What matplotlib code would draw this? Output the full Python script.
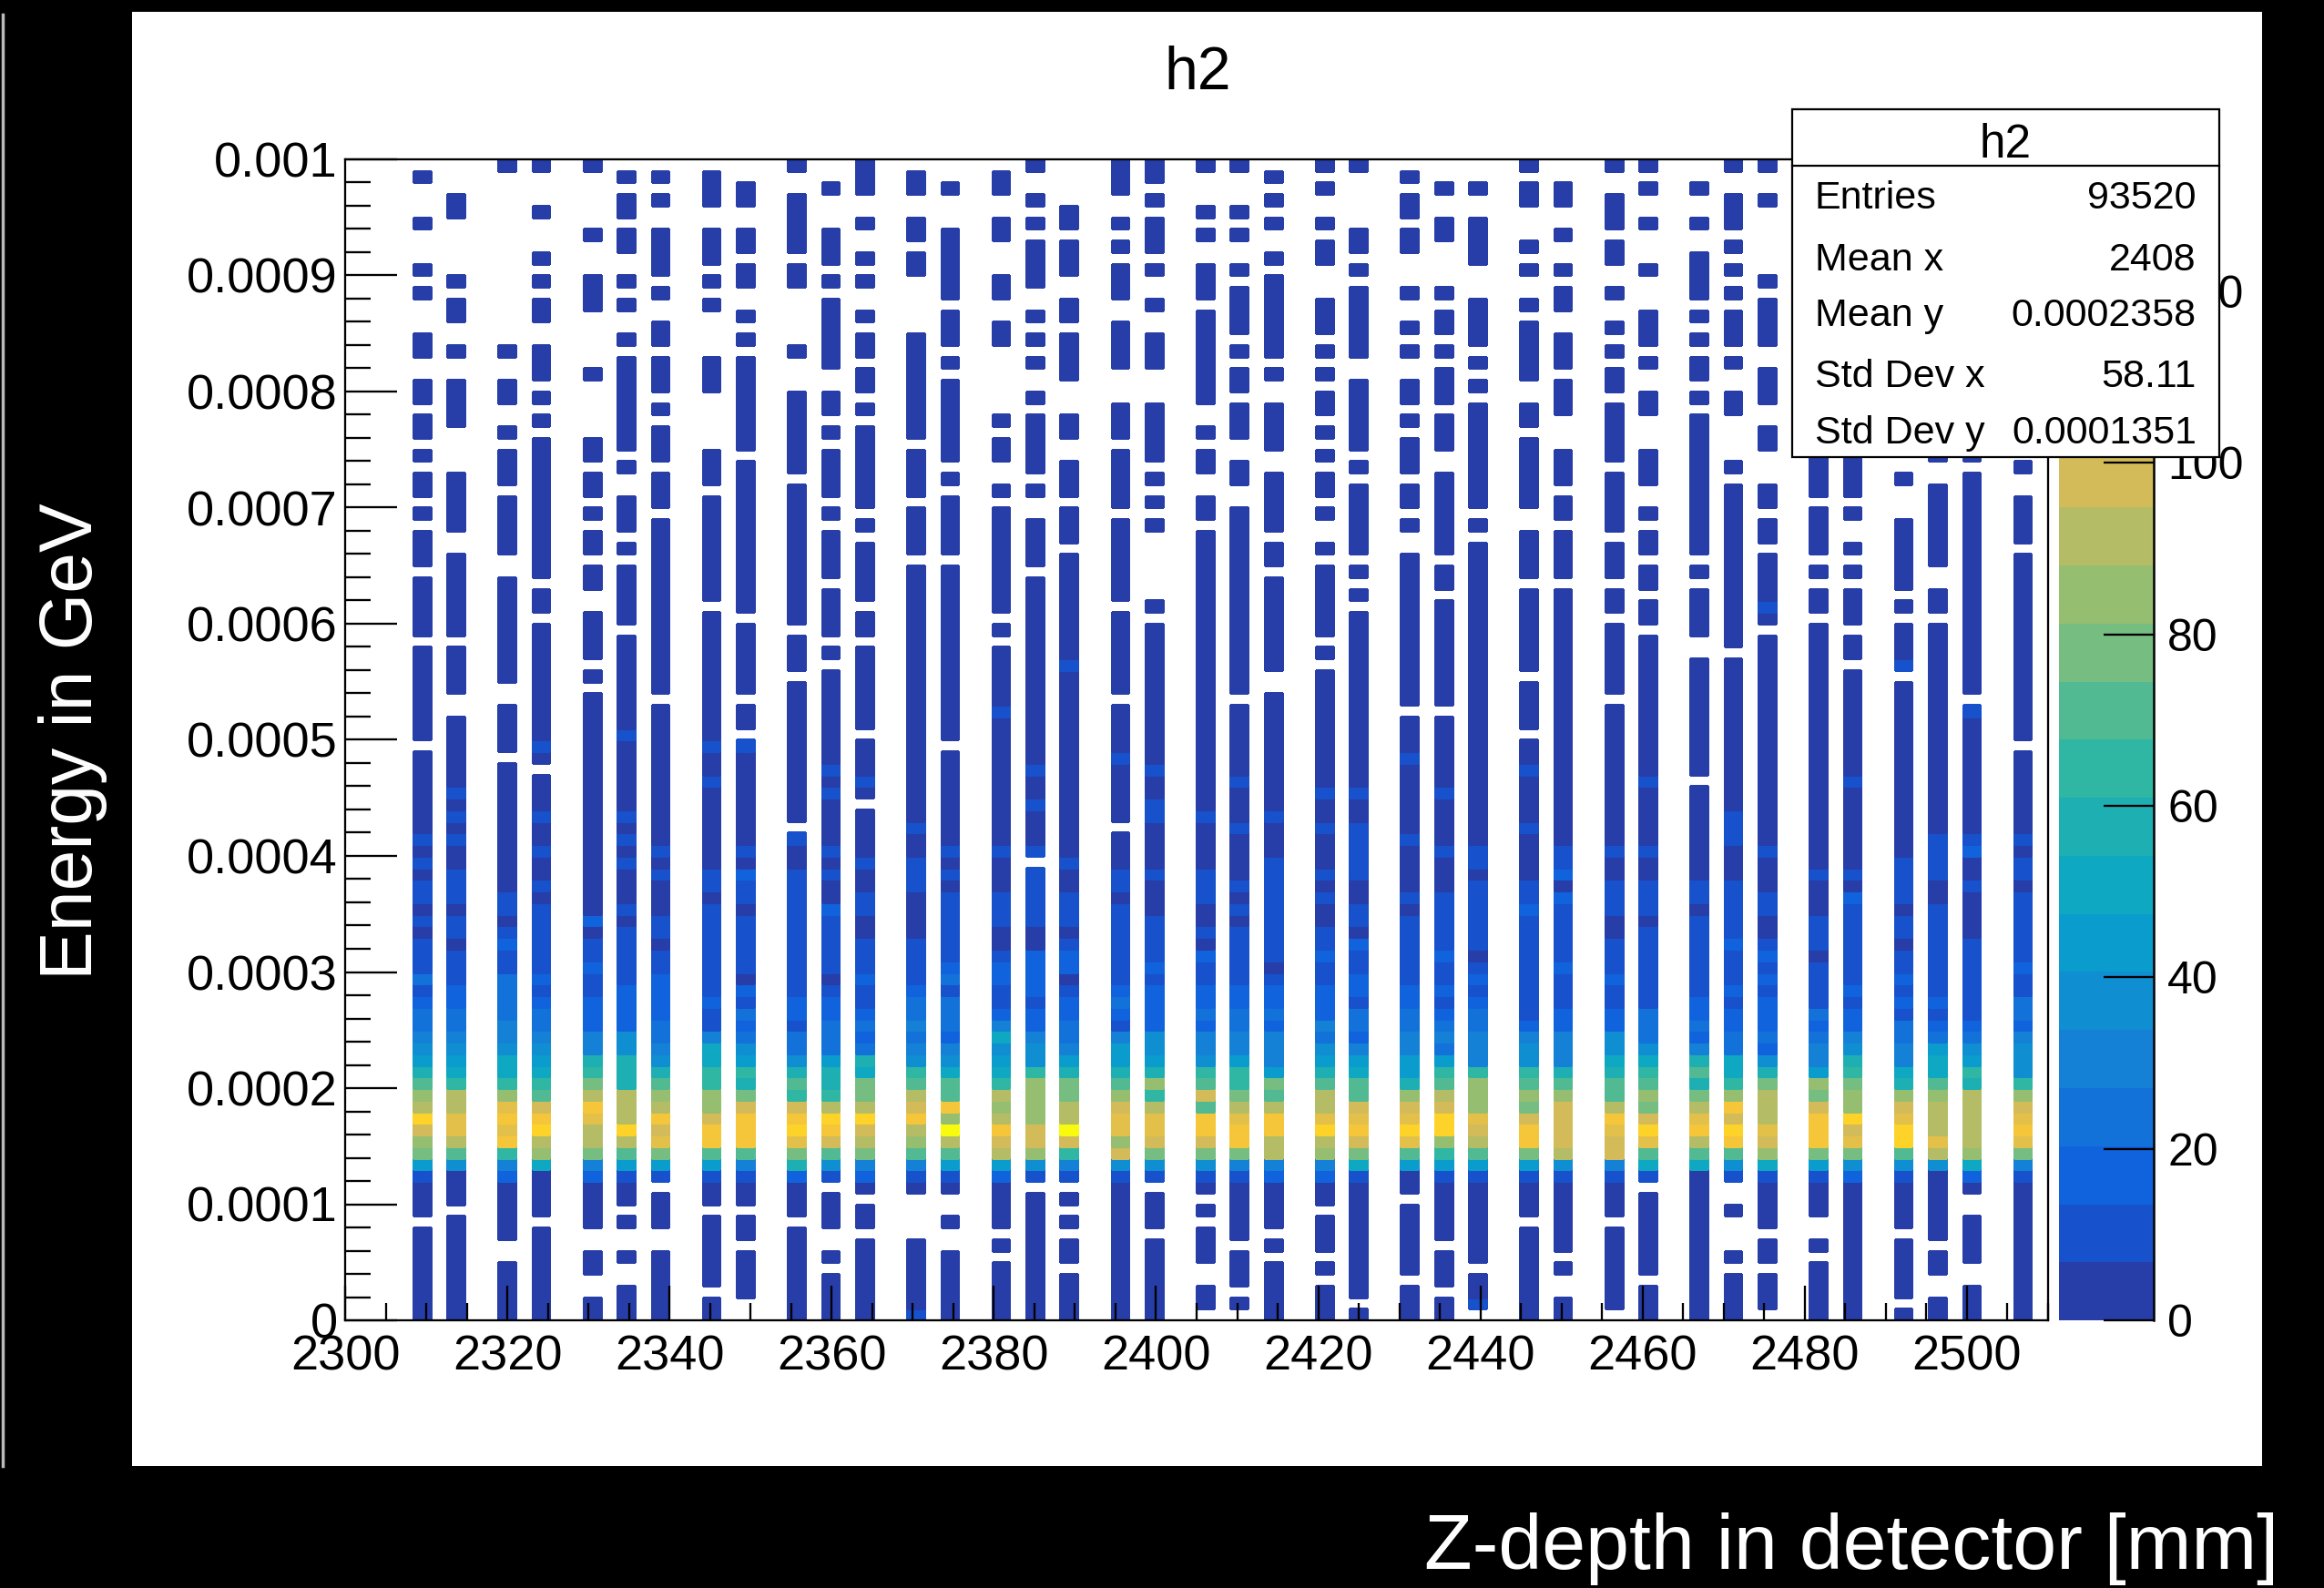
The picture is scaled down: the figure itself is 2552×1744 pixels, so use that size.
import numpy as np
import matplotlib
matplotlib.use("Agg")
import matplotlib.pyplot as plt
from matplotlib.colors import LinearSegmentedColormap, ListedColormap, BoundaryNorm
from matplotlib.patches import Rectangle
from matplotlib.lines import Line2D

# ------------------------------------------------------------------ data
title = "h2"
x_label = "Z-depth in detector [mm]"
y_label = "Energy in GeV"

x_min, x_max, n_xbins = 2300.0, 2510.0, 100
y_min, y_max, n_ybins = 0.0, 0.001, 100
z_max = 135.4          # top of the colour scale
n_levels = 20          # number of colour contours

x_tick_values = [2300, 2320, 2340, 2360, 2380, 2400, 2420, 2440, 2460, 2480, 2500]
x_tick_labels = ["2300", "2320", "2340", "2360", "2380", "2400", "2420", "2440", "2460", "2480", "2500"]
y_tick_values = [0, 0.0001, 0.0002, 0.0003, 0.0004, 0.0005, 0.0006, 0.0007, 0.0008, 0.0009, 0.001]
y_tick_labels = ["0", "0.0001", "0.0002", "0.0003", "0.0004", "0.0005", "0.0006", "0.0007", "0.0008", "0.0009", "0.001"]
z_tick_values = [0, 20, 40, 60, 80, 100, 120]
z_tick_labels = ["0", "20", "40", "60", "80", "100", "120"]

stat_names = ["Entries", "Mean x", "Mean y", "Std Dev x", "Std Dev y"]
stat_values = ["93520", "2408", "0.0002358", "58.11", "0.0001351"]

# filled x bins (detector layers)
layer_bins = [4, 6, 9, 11, 14, 16, 18, 21, 23, 26, 28, 30, 33, 35, 38, 40, 42, 45, 47, 50,
              52, 54, 57, 59, 62, 64, 66, 69, 71, 74, 76, 79, 81, 83, 86, 88, 91, 93, 95, 98]

# colour level of every energy bin; rows 99 (top) ... 50;  '.' = empty, 0-9 a-j = level 0..19
upper_cells = [
    ".0...0...0 .0...00..0 0.00.0.00. 0.000.0000 0.00000000",
    "...00..... 0.00..0..0 000....000 00..000000 0.0000..00",
    "0......... ......0..0 0..0.000.0 0000..0000 00000..000",
    "0...0...0. 0.00..000. 0.0.000000 000000.00. 0000000000",
    "0.....0... 000.....0. ....00.00. 0.00.00..0 000.0.0000",
    ".0.00.00.. 0.0..0.000 00000.0..0 00.0.00000 .000000001",
    ".0.0..0000 .0..00.000 .0.000.000 .000000000 000000.000",
    ".000..000. 0.0....000 .....000.0 00000000.0 0000000000",
    "..00..00.0 0..0.0.000 00000.0000 000000000. 000000.00.",
    "0..00000.0 0.....0... 0000000.00 0000000000 .000.00000",
    "..0...000. 0.000000.. 00.0.0000. 0.0000.000 0.0.000000",
    "000..0..0. 0..0.00.00 .0.0000000 .0.00000.0 0.0000000.",
    ".00..00.00 .....00000 0000.0000. 0000.00000 0000000000",
    "..0...0000 00.000.0.0 000000.0.0 0000.00000 0000000000",
    ".00..00... 00..00.... ..0.00..0. 000000000. 0.00000100",
    "0..0.0.000 0..0.0.0.. 0.00000.0. .0000.0000 0000000000",
    "....00.000 ..00.0000. ..00..000. 000.000000 0001000000",
    "000..0.0.0 00..0000.. .000.00000 .0000000.0 000000.000",
    "00.0.000.0 ..0..000.. .00000.0.0 .0......0. 0000000000",
    "0...0.0..0 00.0000000 0..0.00..0 0.00000000 0000000000",
    "0...0.0..0 .0000.0.00 .000..00.. 0000000000 000000.000",
    ".0.0.0..0. 0000000.0. .0000..000 00.00.0000 0000..0000",
    "0.0..0.00. ..000.0.0. 00.0.0.00. 0..0.00000 0.0.000000",
    "0.....00.0 .000000..0 00000.0.00 0000.0.0.0 0000000000",
    ".0.00.00.. .0..0.0..0 0.0.000.00 .0..000000 0000000.00",
    "..0..00... .0.00.0.00 0.000..000 0000.00.00 0000000.00",
    "..0..0000. ..0000.0.0 .000000000 .0.0000000 0000000000",
    "0.00...0.0 ..0.00000. .00.000000 ..0000.000 0000.0000.",
    "..00..0..0 .00..000.0 00...000.0 0.0000.000 0000000000",
    "0..000.00. .0..0.0.00 .00000.000 00.000.00. 000000.000",
    "0.0..0...0 ...000.0.. 00...000.. 0.00.00.00 .000000000",
    "..0..0..00 00.0.0.00. 0.00000000 0000.0.000 0..0000000",
    "0..000.0.0 .0.000.0.. 00....0.00 0000000000 00.0000000",
    "0..0...... 0.0000..00 0..00...00 .00.000010 .000000000",
    ".......... .......... .....0000. 0000.0.00. 0000000000",
    ".......... .......... .....0000. 0..0.0.000 .00.000000",
    ".......... .......... .......0.. .000000.0. 0001.00000",
    ".......... .......... .....0..00 00000..00. 0000000000",
    ".......... .......... .....0.000 0000000000 000000.100",
    ".......... .......... ......0..0 000.000000 0000000000",
]

# rows 49 ... 0
lower_cells = [
    ".000000010 1011010111 312334568a cdhecb6100 0.00000000",
    "0000101010 0111011011 1223345679 ddffda5000 .000000000",
    "0.00000000 0001101211 3333445779 cfgfg94200 000..00000",
    "10.0001001 0010111111 2123345679 aeghdc7000 0.00000000",
    "0000000000 0000020112 112224489b dgfddb4200 00..00..00",
    "0000001010 1000101111 1222255888 dddhda6100 .0..0..000",
    "0000000001 0100011011 222233458a cdgefb61.0 00..000000",
    "1001000000 0110111111 1121147799 ccegga6100 .000000.00",
    "1000000001 0211011111 0213235698 beggga4100 .00.0000..",
    "0000000.10 0111111111 112213358a 9eghfb8200 0.00000000",
    "0010100001 0100211111 0122333688 9dhgea51.0 00..0.0000",
    "00010.0000 1001100111 211232387b bdhedb420. 00.0000000",
    "0000000100 1110000111 123343459a degdca410. ...0000001",
    ".000000001 0101111112 313332457a agcjda610. .0..000000",
    "0000000001 0001110012 2112475679 dcdged6200 00.0.00000",
    "0010010001 .111110022 221224559c ccceec51.0 0000000000",
    "0000000000 1001110122 012233468b bddje941.0 .0.00.0000",
    "0100000.00 0110111111 123214668a ceffce5100 0000000000",
    "0010011000 0100011112 122225568c 9dffeb51.0 00.0000000",
    "0000001000 0111001021 122324459a eaggeb510. 0.000..00.",
    "0001000100 0010101111 1223344699 bdfggb4100 000.000.0.",
    "0000001000 1111111110 122324446b adggdd4200 00.0.00000",
    "0000100100 0101001121 122243568a ddfhdc4200 .000.0.000",
    "0000100111 1100110211 221332467a aefgeb7100 00000000.0",
    "0100000010 0001011111 1223344668 cefhfa600. 000000.000",
    "0000100001 0001111121 121234369a dehhc96100 000.000.00",
    "0000000001 1011111101 212334449c ccfeda6100 00000.001.",
    "0010000100 0011211111 111124559a cbeggb6100 0.00000000",
    "0000000001 1202111112 111224448a ceeeed5100 0000.0..00",
    "0000000001 0011100111 211225578a adgfee4100 0.0000000.",
    "0001000001 0011101111 111333579a cbehfa71.0 000000.000",
    "000.000000 0011011111 11223248a8 bdfgda7000 0000000000",
    "0000001110 0011111211 1212233779 cgehga51.. 0...0.0000",
    "0000000001 0001100121 212223258b dddfec7100 00.00.000.",
    "0000000000 0100011101 111323446c begggb6100 0..0.00000",
    "0001000000 0102111111 121224589b cchefb5200 0000000000",
    "0000000000 1111011011 2121334478 cefhha5100 00.00000.0",
    "0000000011 1100111111 112123677a cdddfd5000 000.00..00",
    "0000000012 0010000111 1111235698 dddddc720. .0000..000",
    ".000000010 1101111112 1133245559 cefgfb4100 0000000000",
]

# ROOT kBird palette
bird_stops = [0.0000, 0.1250, 0.2500, 0.3750, 0.5000, 0.6250, 0.7500, 0.8750, 1.0000]
bird_red   = [0.2082, 0.0592, 0.0780, 0.0232, 0.1802, 0.5301, 0.8186, 0.9956, 0.9764]
bird_green = [0.1664, 0.3599, 0.5041, 0.6419, 0.7178, 0.7492, 0.7328, 0.7862, 0.9832]
bird_blue  = [0.5293, 0.8684, 0.8385, 0.7914, 0.6425, 0.4662, 0.3499, 0.1968, 0.0539]

# ------------------------------------------------------------------ build histogram
level_chars = "0123456789abcdefghij"
H = np.full((n_ybins, n_xbins), np.nan)
for b, up, lo in zip(layer_bins, upper_cells, lower_cells):
    col = (up.replace(" ", "").ljust(50, ".")[:50] + lo.replace(" ", "").ljust(50, ".")[:50])
    for k, ch in enumerate(col):
        if ch in level_chars:
            H[n_ybins - 1 - k, b] = (level_chars.index(ch) + 0.5) * z_max / n_levels

bird = LinearSegmentedColormap.from_list(
    "bird", list(zip(bird_stops, zip(bird_red, bird_green, bird_blue))))
cmap = ListedColormap([bird((i + 1) / n_levels) for i in range(n_levels)])
cmap.set_bad((1, 1, 1, 0))
norm = BoundaryNorm(np.linspace(0, z_max, n_levels + 1), n_levels)

# ------------------------------------------------------------------ figure
plt.rcParams["font.family"] = ["Liberation Sans", "DejaVu Sans"]
W, HP = 2552, 1744


def fx(px):
    return px / W


def fy(py):
    return 1 - py / HP


fig = plt.figure(figsize=(W / 100, HP / 100), dpi=100, facecolor="black")
fig.patches.append(Rectangle((fx(145), fy(1610)), fx(2484) - fx(145), fy(13) - fy(1610),
                             transform=fig.transFigure, facecolor="white",
                             edgecolor="none", zorder=-2))
fig.lines.append(Line2D([fx(3), fx(3)], [fy(16), fy(1610)], transform=fig.transFigure,
                        color="#bbbbbb", lw=2.5, zorder=-2))

ax = fig.add_axes([fx(379), fy(1450), fx(2249) - fx(379), fy(175) - fy(1450)])
ax.set_facecolor("white")
x_edges = np.linspace(x_min, x_max, n_xbins + 1)
y_edges = np.linspace(y_min, y_max, n_ybins + 1)
mesh = ax.pcolormesh(x_edges, y_edges, np.ma.masked_invalid(H), cmap=cmap, norm=norm,
                     edgecolors="face", linewidth=0.8, antialiased=False)
ax.set_xlim(x_min, x_max)
ax.set_ylim(y_min, y_max)
ax.set_xticks(x_tick_values)
ax.set_xticklabels(x_tick_labels)
ax.set_xticks(np.arange(x_min, x_max + 0.1, 5), minor=True)
ax.set_yticks(y_tick_values)
ax.set_yticklabels(y_tick_labels)
ax.set_yticks(np.linspace(y_min, y_max, 51), minor=True)
ax.tick_params(axis="y", which="major", direction="in", length=41, width=1.65,
               labelsize=39, pad=6, right=False)
ax.tick_params(axis="y", which="minor", direction="in", length=20, width=1.65, right=False)
ax.tick_params(axis="x", which="major", direction="in", length=27.4, width=1.65,
               labelsize=39, pad=11, top=False)
ax.tick_params(axis="x", which="minor", direction="in", length=13.7, width=1.65, top=False)
for s in ax.spines.values():
    s.set_linewidth(1.65)

# colour bar
cax = fig.add_axes([fx(2261), fy(1450), fx(2365) - fx(2261), fy(175) - fy(1450)])
cb = fig.colorbar(mesh, cax=cax, ticks=z_tick_values)
cb.outline.set_visible(False)
cax.set_yticklabels(z_tick_labels)
cax.tick_params(axis="y", which="both", direction="in", length=39.6, width=1.65,
                labelsize=36, pad=11, right=True, left=False)
cax.minorticks_off()
cax.plot([1, 1], [0, 1], transform=cax.transAxes, color="black", lw=1.8, clip_on=False)

# title
fig.text(fx(1315), fy(98), title, ha="center", va="baseline", fontsize=47.5, color="black")

# stats box (drawn over everything)
fig.patches.append(Rectangle((fx(1968), fy(502)), fx(2437) - fx(1968), fy(120) - fy(502),
                             transform=fig.transFigure, facecolor="white",
                             edgecolor="black", lw=1.6, zorder=10))
fig.lines.append(Line2D([fx(1968), fx(2437)], [fy(182), fy(182)], transform=fig.transFigure,
                        color="black", lw=1.6, zorder=11))
fig.text(fx(2202), fy(173), title, ha="center", va="baseline", fontsize=37, zorder=12)
stat_baselines = [229, 297, 358, 425, 487]
for name, val, yb in zip(stat_names, stat_values, stat_baselines):
    fig.text(fx(1993), fy(yb), name, ha="left", va="baseline", fontsize=31, zorder=12)
    fig.text(fx(2412), fy(yb), val, ha="right", va="baseline", fontsize=31, zorder=12)

# axis titles on the black surround
fig.text(fx(80), fy(814), y_label, rotation=90, ha="center", va="center", color="white",
         fontsize=58)
fig.text(fx(2502), fy(1723), x_label, ha="right", va="baseline", color="white", fontsize=62)

fig.savefig("out.png", dpi=100, facecolor="black")
